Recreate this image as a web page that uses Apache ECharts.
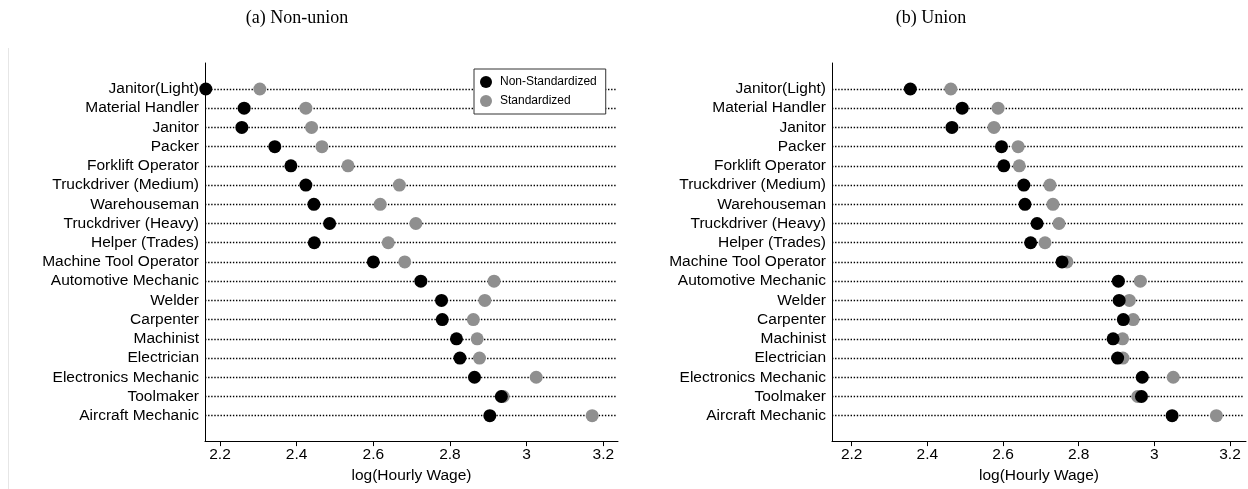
<!DOCTYPE html>
<html>
<head>
<meta charset="utf-8">
<script src="https://cdn.jsdelivr.net/npm/echarts@6/dist/echarts.min.js"></script>
<style>
html,body{margin:0;padding:0;background:#fff;}
#chart{width:1248px;height:489px;}
</style>
</head>
<body>
<div id="chart"></div>
<script>
const categories = [
  'Janitor(Light)', 'Material Handler', 'Janitor', 'Packer', 'Forklift Operator',
  'Truckdriver (Medium)', 'Warehouseman', 'Truckdriver (Heavy)', 'Helper (Trades)',
  'Machine Tool Operator', 'Automotive Mechanic', 'Welder', 'Carpenter', 'Machinist',
  'Electrician', 'Electronics Mechanic', 'Toolmaker', 'Aircraft Mechanic'
];
const nonUnionNonStd = [2.163, 2.263, 2.257, 2.343, 2.385, 2.424, 2.445, 2.486, 2.446,
  2.600, 2.724, 2.778, 2.780, 2.817, 2.826, 2.864, 2.934, 2.904];
const nonUnionStd = [2.304, 2.424, 2.439, 2.466, 2.534, 2.668, 2.618, 2.711, 2.639,
  2.682, 2.915, 2.891, 2.861, 2.871, 2.877, 3.025, 2.939, 3.171];
const unionNonStd = [2.355, 2.492, 2.465, 2.596, 2.602, 2.655, 2.658, 2.690, 2.673,
  2.756, 2.905, 2.907, 2.918, 2.891, 2.903, 2.968, 2.966, 3.047];
const unionStd = [2.462, 2.587, 2.576, 2.640, 2.643, 2.724, 2.732, 2.748, 2.711,
  2.769, 2.963, 2.934, 2.944, 2.916, 2.917, 3.050, 2.956, 3.164];
const xTicks = [2.2, 2.4, 2.6, 2.8, 3, 3.2];
const panelTitles = ['(a) Non-union', '(b) Union'];
const seriesNames = ['Non-Standardized', 'Standardized'];
const xAxisName = 'log(Hourly Wage)';

const FONT = "'Liberation Sans', Arial, Helvetica, sans-serif";
const BLACK = '#000000';
const GREY = '#8f8f8f';

const chart = echarts.init(document.getElementById('chart'), null, {renderer: 'canvas'});

function frameX(gridIndex, min, max) {
  return {
    gridIndex, type: 'value', min, max,
    axisLine: {show: true, lineStyle: {color: '#000', width: 1}},
    axisTick: {show: true, customValues: xTicks, length: 5, lineStyle: {color: '#000'}},
    axisLabel: {show: true, customValues: xTicks, fontSize: 15.5, color: '#000', fontFamily: FONT, margin: 6},
    splitLine: {show: false},
    name: xAxisName, nameLocation: 'middle', nameGap: 24,
    nameTextStyle: {fontSize: 15.5, color: '#000', fontFamily: FONT}
  };
}
function hiddenX(gridIndex, min, max) {
  return {gridIndex, type: 'value', min, max, show: false, splitLine: {show: false}};
}
function frameY(gridIndex) {
  return {
    gridIndex, type: 'value', min: 0, max: 1,
    axisLine: {show: true, lineStyle: {color: '#000', width: 1}},
    axisTick: {show: false}, axisLabel: {show: false}, splitLine: {show: false}
  };
}
function catY(gridIndex) {
  return {
    gridIndex, type: 'category', data: categories, inverse: true, boundaryGap: false,
    axisLine: {show: false}, axisTick: {show: false},
    axisLabel: {show: true, interval: 0, fontSize: 15.5, color: '#000', fontFamily: FONT, margin: 6},
    splitLine: {show: true, interval: 0, lineStyle: {color: '#000', width: 1.4, type: [1.4, 1.7]}}
  };
}
function dots(name, values, color, xi, yi) {
  return {
    name, type: 'scatter', xAxisIndex: xi, yAxisIndex: yi,
    symbol: 'circle', symbolSize: 13,
    itemStyle: {color, opacity: 1},
    emphasis: {disabled: true},
    data: values.map((v, i) => [v, categories[i]])
  };
}

const option = {
  backgroundColor: '#ffffff',
  animation: false,
  textStyle: {fontFamily: FONT},
  grid: [
    {left: 205, top: 63, width: 413, height: 379},
    {left: 205, top: 89, width: 412, height: 326.7},
    {left: 832, top: 63, width: 414, height: 379},
    {left: 832, top: 89, width: 411, height: 326.7}
  ],
  xAxis: [
    frameX(0, 2.1609, 3.2384),
    hiddenX(1, 2.1609, 3.2358),
    frameX(2, 2.1479, 3.2423),
    hiddenX(3, 2.1479, 3.2344)
  ],
  yAxis: [frameY(0), catY(1), frameY(2), catY(3)],
  legend: {
    data: seriesNames,
    left: 474, top: 69,
    orient: 'vertical',
    icon: 'circle', itemWidth: 12, itemHeight: 12, itemGap: 7,
    backgroundColor: '#ffffff', borderColor: '#333', borderWidth: 1, borderRadius: 0,
    padding: [7, 9, 7, 6],
    textStyle: {fontSize: 12, color: '#000', fontFamily: FONT, padding: [0, 0, 0, 3]},
    selectedMode: false,
    z: 10
  },
  graphic: [
    {type: 'text', x: 297, y: 18, style: {text: panelTitles[0], fontSize: 18, fontFamily: "'Liberation Serif', 'Times New Roman', serif", fill: '#000', textAlign: 'center', textVerticalAlign: 'middle'}},
    {type: 'text', x: 931, y: 18, style: {text: panelTitles[1], fontSize: 18, fontFamily: "'Liberation Serif', 'Times New Roman', serif", fill: '#000', textAlign: 'center', textVerticalAlign: 'middle'}},
    {type: 'line', shape: {x1: 8.5, y1: 48, x2: 8.5, y2: 489}, style: {stroke: '#e6e6e6', lineWidth: 1}}
  ],
  series: [
    dots(seriesNames[1], nonUnionStd, GREY, 1, 1),
    dots(seriesNames[0], nonUnionNonStd, BLACK, 1, 1),
    dots(seriesNames[1], unionStd, GREY, 3, 3),
    dots(seriesNames[0], unionNonStd, BLACK, 3, 3)
  ]
};
chart.setOption(option);
</script>
</body>
</html>
